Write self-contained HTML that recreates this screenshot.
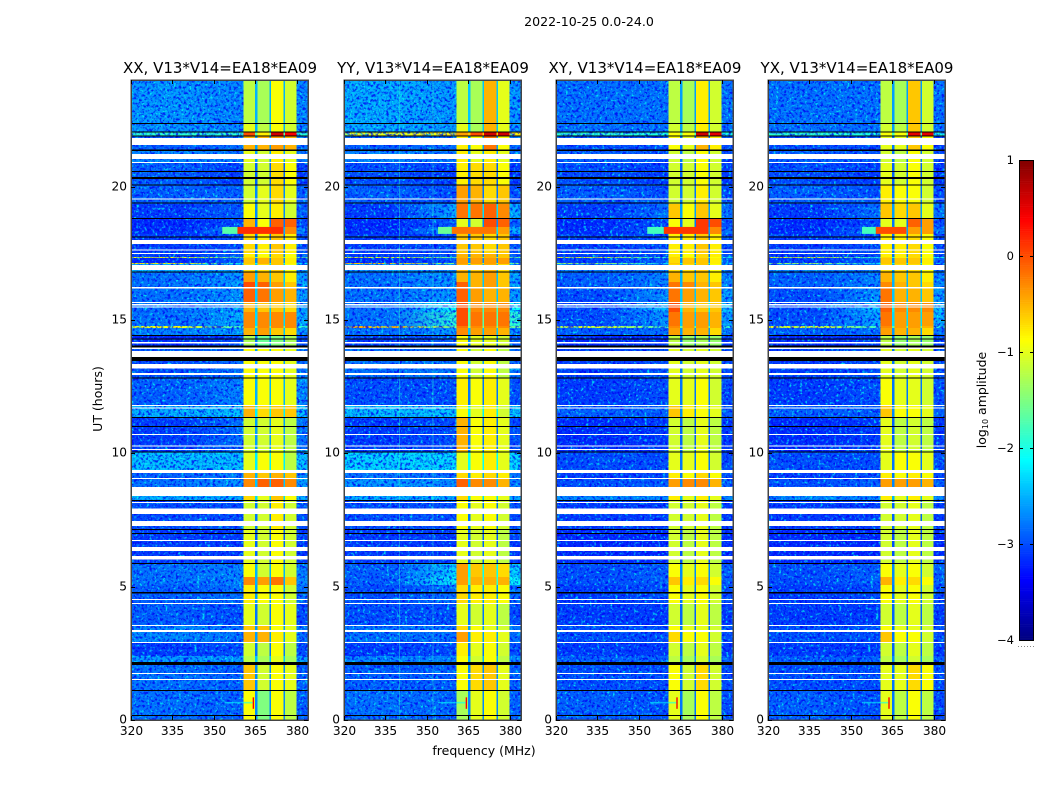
<!DOCTYPE html>
<html>
<head>
<meta charset="utf-8">
<title>2022-10-25 spectrogram</title>
<style>
html,body{margin:0;padding:0;background:#fff;width:1050px;height:800px;overflow:hidden}
svg{display:block;font-family:"DejaVu Sans","Liberation Sans",sans-serif}
text{fill:#000}
</style>
</head>
<body>
<svg id="figure" width="1050" height="800" viewBox="0 0 1050 800" xmlns="http://www.w3.org/2000/svg">
<defs id="defs">
<filter id="speckle" x="0" y="0" width="100%" height="100%" color-interpolation-filters="sRGB">
<feTurbulence type="fractalNoise" baseFrequency="0.38" numOctaves="2" seed="7"/>
<feColorMatrix type="matrix" values="0 0 0 0 0  0 3 0 0 -1.2  0 0 0 0 0.95  4 0 0 0 -1.6"/>
</filter>
</defs>
<text x="589" y="26" font-size="12.6" text-anchor="middle">2022-10-25 0.0-24.0</text>
<text x="484" y="755" font-size="12.5" text-anchor="middle">frequency (MHz)</text>
<text transform="translate(102,399) rotate(-90)" font-size="12.5" text-anchor="middle">UT (hours)</text>
<text transform="translate(986,400) rotate(-90)" font-size="12.5" text-anchor="middle">log<tspan font-size="8" dy="2">10</tspan><tspan dy="-2"> amplitude</tspan></text>
<g id="panels"></g>
<g id="colorbar"></g>
</svg>
<script>
// Categories and axis ticks
const panelTitles = ["XX, V13*V14=EA18*EA09", "YY, V13*V14=EA18*EA09", "XY, V13*V14=EA18*EA09", "YX, V13*V14=EA18*EA09"];
const freqTicks = [320, 335, 350, 365, 380];
const hourTicks = [0, 5, 10, 15, 20];
const colorTicks = [1, 0, -1, -2, -3, -4];
const colorTickLabels = ["1", "0", "\u22121", "\u22122", "\u22123", "\u22124"];

// Frequency columns (MHz)
const bandEdges = [[360.6, 364.8], [365.7, 370], [370.7, 375.1], [375.7, 379.9]];
const gapEdges = [[364.8, 365.7], [370, 370.7], [375.1, 375.7]];
const edgeBand = [379.9, 384];
const backgroundEdges = [[320, 338], [338, 360.6]];

// Time rows (UT hours, top to bottom)
const hourEdges = [24,22.39,22.05,21.9,21.38,20.89,20.06,19.35,18.79,18.49,18.23,17.48,17.36,17.33,17.14,17.1,16.8,16.43,16.2,15.68,15.3,14.78,14.7,14.44,14.03,12.83,11.81,11.36,10.05,9.26,9.04,8.74,8.25,7.13,5.85,5.36,5.06,4.35,3.56,3.3,2.93,2.4,2.18,1.13,0];

// log10 amplitude per row: [left bg, right bg, band1, band2, band3, band4]
const xxLevels = [
[-2.6,-2.7,-1.2,-1.3,-0.9,-1.1],[-2.6,-2.7,-1.0,-1.2,-0.9,-1.1],[-1.9,-1.9,0.0,-0.8,0.6,0.4],[-2.9,-2.8,-0.5,-0.5,-0.4,-0.5],
[-2.7,-2.8,-1.0,-1.1,-0.8,-1.0],[-2.9,-3.1,-1.1,-1.1,-0.7,-0.9],[-2.9,-2.9,-1.1,-1.0,-0.7,-1.0],[-3.1,-2.9,-0.9,-1.0,-0.8,-1.1],
[-3.2,-3.0,-0.5,-0.9,-0.1,-0.1],[-3.2,-2.7,-0.4,-0.5,-0.4,-0.3],[-3.1,-3.0,-0.7,-0.8,-0.6,-0.8],[-3.1,-2.9,-0.8,-0.9,-0.7,-0.9],
[-0.9,-1.6,-0.7,-0.8,-0.7,-0.9],[-3.2,-2.9,-0.6,-0.5,-0.6,-0.8],[-0.8,-2.2,-0.6,-0.5,-0.6,-0.8],[-2.5,-2.6,-0.7,-0.7,-0.6,-0.9],
[-2.8,-2.6,-0.4,-0.5,-0.6,-0.8],[-2.8,-2.5,0.0,-0.1,-0.4,-0.6],[-2.8,-2.6,-0.1,-0.2,-0.4,-0.5],[-2.8,-2.6,-0.5,-0.6,-0.6,-0.7],
[-2.8,-2.5,-0.3,-0.3,-0.3,-0.3],[-0.9,-1.9,-0.3,-0.3,-0.3,-0.3],[-2.7,-2.6,-0.5,-0.4,-0.6,-0.7],[-3.2,-3.0,-1.3,-1.6,-1.5,-1.3],
[-3.0,-2.8,-0.9,-0.9,-0.9,-1.0],[-2.9,-2.7,-0.9,-0.9,-0.9,-1.0],[-2.5,-2.4,-0.5,-0.7,-0.6,-0.6],[-3.1,-2.8,-1.1,-1.1,-1.0,-1.2],
[-2.4,-2.4,-1.0,-0.9,-0.9,-1.2],[-2.9,-2.7,-0.5,-0.6,-0.5,-0.6],[-2.8,-2.6,-0.3,-0.1,-0.1,-0.3],[-2.5,-2.5,-0.7,-1.0,-0.6,-0.9],
[-3.0,-3.0,-1.1,-1.1,-0.8,-1.1],[-3.1,-3.1,-1.0,-1.1,-0.9,-1.1],[-2.8,-2.7,-0.9,-1.1,-0.9,-1.1],[-2.8,-2.7,-0.3,-0.4,-0.2,-0.6],
[-2.9,-2.8,-0.8,-0.9,-0.9,-1.1],[-2.9,-3.0,-1.0,-1.1,-0.9,-1.0],[-2.7,-2.8,-0.6,-0.6,-0.9,-1.0],[-2.7,-2.8,-0.5,-0.5,-0.8,-1.0],
[-3.1,-3.0,-1.1,-1.2,-0.9,-1.2],[-2.6,-2.6,-1.2,-1.3,-1.0,-1.3],[-2.8,-2.9,-0.6,-1.1,-0.9,-1.0],[-2.8,-2.9,-0.9,-1.5,-0.9,-1.2]];
const yyLevels = [
[-2.5,-2.6,-1.2,-1.3,-0.5,-1.0],[-2.5,-2.6,-1.0,-1.3,-0.5,-1.0],[-1.0,-0.8,-0.4,0.0,0.6,0.6],[-2.9,-2.8,-0.8,-0.9,-0.2,-0.9],
[-2.7,-2.8,-0.8,-1.0,-0.8,-1.0],[-3.0,-3.1,-0.8,-0.7,-0.7,-0.9],[-2.9,-3.0,-0.4,-0.5,-0.7,-0.6],[-3.1,-2.5,-0.2,-0.2,-0.1,-0.3],
[-3.2,-2.9,-1.0,-1.1,0.0,-0.1],[-3.2,-2.5,-0.5,-0.5,-0.5,-0.4],[-3.1,-3.0,-0.6,-0.6,-0.7,-0.6],[-3.1,-2.9,-0.5,-0.5,-0.5,-0.6],
[-1.0,-1.6,-0.5,-0.5,-0.5,-0.6],[-3.2,-2.9,-0.4,-0.4,-0.4,-0.4],[-0.6,-1.5,-0.4,-0.4,-0.4,-0.4],[-2.6,-2.7,-0.5,-0.6,-0.5,-0.7],
[-2.8,-2.6,-0.5,-0.5,-0.4,-0.6],[-2.8,-2.6,-0.1,-0.5,-0.4,-0.6],[-2.8,-2.6,-0.1,-0.4,-0.5,-0.5],[-2.8,-2.1,0.0,-0.3,-0.3,-0.3],
[-2.8,-1.9,0.0,-0.2,-0.2,-0.2],[-0.5,-1.6,-0.2,-0.3,-0.3,-0.3],[-2.8,-2.6,-0.3,-0.4,-0.4,-0.5],[-3.1,-2.9,-0.9,-1.0,-1.0,-1.1],
[-2.8,-2.8,-0.9,-1.1,-0.9,-1.2],[-3.0,-3.0,-0.8,-0.9,-0.8,-1.0],[-2.4,-2.4,-0.9,-1.0,-0.8,-1.1],[-3.1,-3.0,-0.5,-0.9,-0.8,-1.0],
[-2.3,-2.3,-1.0,-0.9,-0.8,-1.0],[-2.8,-2.8,-0.7,-0.8,-0.7,-0.8],[-2.6,-2.7,-0.1,-0.3,-0.3,-0.5],[-2.5,-2.5,-0.7,-0.9,-0.9,-1.0],
[-3.0,-3.0,-0.9,-1.0,-0.9,-1.1],[-3.1,-3.1,-1.0,-1.1,-1.0,-1.2],[-2.9,-2.3,-0.4,-0.6,-0.6,-0.7],[-2.9,-2.1,-0.4,-0.5,-0.5,-0.5],
[-3.0,-2.8,-0.7,-0.8,-0.8,-0.9],[-3.0,-3.0,-1.0,-1.1,-1.0,-1.2],[-2.8,-2.8,-0.7,-0.9,-1.0,-1.1],[-2.8,-2.8,-0.4,-0.8,-0.8,-1.0],
[-3.1,-3.0,-0.8,-1.0,-0.9,-1.1],[-2.7,-2.7,-0.9,-1.1,-0.9,-1.2],[-2.9,-2.9,-0.9,-0.7,-0.6,-1.0],[-2.8,-2.9,-1.3,-1.0,-0.9,-1.1]];
const xyLevels = [
[-2.8,-2.8,-1.2,-1.3,-0.8,-1.1],[-2.8,-2.8,-1.1,-1.2,-0.8,-1.1],[-1.9,-2.0,-0.9,-0.9,0.6,0.5],[-3.0,-3.0,-0.9,-1.0,-0.5,-0.8],
[-2.9,-3.0,-1.1,-1.2,-0.9,-1.1],[-3.0,-3.1,-1.1,-1.1,-0.9,-1.1],[-2.9,-3.0,-1.1,-1.1,-0.8,-1.1],[-3.1,-2.8,-0.6,-0.9,-0.6,-1.0],
[-3.2,-3.0,-0.9,-1.0,0.1,0.0],[-3.2,-2.8,-0.5,-0.4,-0.2,-0.3],[-3.1,-3.0,-0.8,-0.8,-0.6,-0.8],[-3.1,-3.0,-0.8,-0.9,-0.7,-0.8],
[-1.0,-2.0,-0.7,-0.8,-0.7,-0.9],[-3.1,-2.9,-0.7,-0.6,-0.6,-0.8],[-1.4,-2.3,-0.6,-0.6,-0.6,-0.8],[-2.7,-2.8,-0.7,-0.7,-0.6,-0.9],
[-2.9,-2.7,-0.5,-0.6,-0.6,-0.8],[-2.9,-2.7,-0.2,-0.3,-0.5,-0.6],[-3.0,-2.6,-0.2,-0.4,-0.5,-0.6],[-3.0,-2.4,0.0,-0.5,-0.6,-0.6],
[-3.0,-2.6,-0.2,-0.4,-0.4,-0.5],[-1.0,-1.9,-0.3,-0.4,-0.4,-0.5],[-2.9,-2.8,-0.4,-0.5,-0.5,-0.7],[-3.2,-3.1,-1.2,-1.4,-1.3,-1.4],
[-3.1,-3.0,-1.0,-1.1,-1.0,-1.1],[-3.1,-3.0,-1.0,-1.0,-0.9,-1.1],[-2.9,-2.9,-0.6,-0.8,-0.9,-1.0],[-3.2,-3.1,-1.1,-1.2,-1.0,-1.2],
[-3.0,-3.0,-1.0,-1.0,-0.9,-1.1],[-3.1,-3.0,-0.8,-0.9,-0.7,-0.9],[-3.0,-2.9,-0.4,-0.3,-0.3,-0.5],[-2.7,-2.7,-0.8,-1.0,-0.8,-1.0],
[-3.1,-3.1,-1.1,-1.1,-1.0,-1.2],[-3.2,-3.2,-1.1,-1.2,-1.0,-1.2],[-3.0,-2.9,-0.9,-1.0,-0.9,-1.1],[-3.0,-2.9,-0.6,-0.8,-0.7,-0.9],
[-3.1,-3.0,-0.9,-1.0,-0.9,-1.1],[-3.1,-3.1,-1.1,-1.2,-1.0,-1.2],[-3.0,-3.0,-0.9,-1.0,-1.0,-1.1],[-3.0,-3.0,-0.7,-0.9,-0.9,-1.1],
[-3.1,-3.1,-1.1,-1.2,-1.0,-1.2],[-2.9,-2.9,-1.2,-1.3,-1.1,-1.3],[-3.0,-3.0,-0.9,-1.1,-0.7,-1.1],[-2.9,-3.0,-1.0,-1.3,-0.9,-1.2]];
const yxLevels = [
[-2.8,-2.8,-1.2,-1.3,-0.6,-1.1],[-2.8,-2.8,-1.1,-1.2,-0.6,-1.1],[-1.9,-2.0,-0.9,-0.9,0.5,0.5],[-3.0,-3.0,-1.0,-1.0,-0.6,-0.9],
[-2.9,-3.0,-1.1,-1.2,-0.9,-1.1],[-3.0,-3.1,-1.0,-1.1,-0.9,-1.1],[-2.9,-3.0,-0.8,-0.9,-0.9,-1.1],[-3.1,-2.8,-0.6,-0.7,-0.6,-1.0],
[-3.2,-3.0,-1.0,-1.0,-0.1,-0.4],[-3.2,-2.8,-0.5,-0.5,-0.4,-0.4],[-3.1,-3.0,-0.8,-0.8,-0.7,-0.9],[-3.1,-3.0,-0.8,-0.8,-0.7,-0.9],
[-1.0,-2.0,-0.7,-0.8,-0.7,-0.9],[-3.1,-2.9,-0.6,-0.6,-0.6,-0.8],[-1.4,-2.3,-0.6,-0.6,-0.6,-0.8],[-2.7,-2.8,-0.7,-0.7,-0.7,-0.9],
[-2.9,-2.7,-0.5,-0.6,-0.6,-0.8],[-2.9,-2.7,-0.3,-0.5,-0.6,-0.7],[-3.0,-2.6,-0.2,-0.5,-0.5,-0.6],[-3.0,-2.4,-0.1,-0.3,-0.3,-0.3],
[-3.0,-2.5,-0.2,-0.4,-0.4,-0.4],[-1.0,-1.9,-0.3,-0.4,-0.4,-0.5],[-2.9,-2.8,-0.4,-0.5,-0.5,-0.7],[-3.2,-3.1,-1.2,-1.4,-1.3,-1.4],
[-3.1,-3.0,-1.0,-1.1,-1.0,-1.1],[-3.1,-3.0,-0.9,-1.0,-1.0,-1.1],[-2.9,-2.9,-0.6,-0.9,-0.9,-1.0],[-3.2,-3.1,-1.0,-1.2,-1.1,-1.2],
[-3.0,-3.0,-1.0,-0.9,-0.9,-1.0],[-3.1,-3.0,-0.8,-0.9,-0.8,-0.9],[-3.0,-2.9,-0.4,-0.4,-0.4,-0.5],[-2.7,-2.7,-0.8,-1.0,-0.8,-1.0],
[-3.1,-3.1,-1.1,-1.1,-1.0,-1.2],[-3.2,-3.2,-1.1,-1.2,-1.0,-1.2],[-3.0,-2.9,-0.9,-1.0,-0.9,-1.1],[-3.0,-2.9,-0.5,-0.8,-0.7,-0.9],
[-3.1,-3.0,-0.9,-1.0,-0.9,-1.1],[-3.1,-3.1,-1.1,-1.2,-1.0,-1.2],[-3.0,-3.0,-0.9,-1.0,-1.0,-1.1],[-3.0,-3.0,-0.6,-0.9,-0.9,-1.1],
[-3.1,-3.1,-1.1,-1.2,-1.0,-1.2],[-2.9,-2.9,-1.2,-1.3,-1.1,-1.3],[-3.0,-3.0,-1.0,-1.0,-0.7,-0.9],[-2.9,-3.0,-1.0,-1.2,-0.9,-1.2]];
const panelLevels = [xxLevels, yyLevels, xyLevels, yxLevels];

// Flagged (no data) intervals in UT hours: white gaps
const flaggedStart = [21.83,21.23,20.93,19.56,18.0,17.64,17.51,17.06,16.24,15.68,15.6,15.51,14.18,13.97,13.84,13.35,13.01,11.81,11.72,10.73,10.29,10.16,9.38,9.08,8.74,8.18,7.93,7.46,6.75,6.49,6.15,4.54,4.39,3.56,3.38,2.93,1.76,1.54];
const flaggedEnd = [21.56,21.04,20.89,19.52,17.85,17.61,17.48,16.88,16.18,15.64,15.54,15.47,14.12,13.91,13.61,13.18,12.94,11.78,11.68,10.69,10.26,10.13,9.26,9.04,8.4,8.14,7.73,7.28,6.71,6.34,6.02,4.5,4.35,3.53,3.3,2.89,1.73,1.5];
// Scan boundaries in UT hours: black lines
const scanGapStart = [22.39,22.07,21.92,21.39,20.59,20.36,20.08,19.41,18.83,18.13,16.82,14.44,14.31,14.04,13.61,12.84,11.36,11.03,10.07,8.25,7.16,7.01,5.89,4.8,2.18,1.13,0.19];
const scanGapEnd = [22.35,22.03,21.88,21.34,20.55,20.29,20.04,19.37,18.79,18.09,16.78,14.4,14.27,13.97,13.47,12.81,11.33,10.99,10.03,8.21,7.13,6.98,5.85,4.74,2.06,1.09,0.15];

// Bright interference stripe near 18.3 h, per panel
const flareHours = [18.49, 18.23];
const flareFringeStart = [353, 354, 353, 354];
const flareFringeLevel = [-1.7, -1.6, -1.8, -1.8];
const flareStart = [358.5, 359, 359, 359];
const flareEnd = [375.1, 375.1, 375.1, 370];
const flareLevel = [0.15, -0.2, 0.1, 0.0];

// Narrow spike near 0.65 h with its fainter tail, and faint RFI channels
const spikeFreq = [364, 364, 363.5, 363.5];
const spikeHours = [0.42, 0.85];
const spikeLevel = 0.4;
const tailHour = [0.68, 0.62];
const tailStart = [354, 354, 354, 354];
const tailLevel = -2.1;
const rfiChannels = [[], [339.9, 352], [], []];
const rfiLevel = -1.9;

const panelLeft = [131, 344, 556, 768];
const panelWidth = 177;
const plotTop = 80;
const plotBottom = 720;
const SVGNS = "http://www.w3.org/2000/svg";

function xScale(panel, mhz) { return panelLeft[panel] + (mhz - 320) * panelWidth / 64; }
function yScale(hour) { return plotBottom - hour * (plotBottom - plotTop) / 24; }
function colorY(level) { return 160 + (1 - level) * 96; }
function jet(level) {
  const t = Math.max(0, Math.min(1, (level + 4) / 5));
  const c = v => Math.round(255 * Math.max(0, Math.min(1, 1.5 - Math.abs(4 * t - v))));
  return "rgb(" + c(3) + "," + c(2) + "," + c(1) + ")";
}
function make(parent, tag, attrs) {
  const el = document.createElementNS(SVGNS, tag);
  for (const k in attrs) el.setAttribute(k, attrs[k]);
  parent.appendChild(el);
  return el;
}

const defsRoot = document.getElementById("defs");
const panelsRoot = document.getElementById("panels");
panelTitles.forEach((title, p) => {
  const g = make(panelsRoot, "g", {});
  
  
  const levels = panelLevels[p];

  for (let r = 0; r < hourEdges.length - 1; r++) {
    const yTop = yScale(hourEdges[r]), h = yScale(hourEdges[r + 1]) - yTop;
    const row = levels[r];
    const gradId = "bg-" + p + "-" + r;
    const grad = make(defsRoot, "linearGradient", { id: gradId });
    make(grad, "stop", { offset: "0", "stop-color": jet(row[0]) });
    make(grad, "stop", { offset: "1", "stop-color": jet(row[1]) });
    const spans = [
      [backgroundEdges[0], jet(row[0])], [backgroundEdges[1], "url(#" + gradId + ")"],
      [bandEdges[0], jet(row[2])], [bandEdges[1], jet(row[3])], [bandEdges[2], jet(row[4])], [bandEdges[3], jet(row[5])],
      [gapEdges[0], jet(row[1] + 0.2)], [gapEdges[1], jet(row[1] + 0.2)], [gapEdges[2], jet(row[1] + 0.2)], [edgeBand, jet(row[1])]
    ];
    spans.forEach(s => {
      const x0 = xScale(p, s[0][0]), x1 = xScale(p, s[0][1]);
      const cell = make(g, "rect", { x: x0, y: yTop, width: x1 - x0, height: h, fill: s[1], "shape-rendering": "crispEdges" });
      
      
    });
  }

  const noise = make(g, "rect", { x: panelLeft[p], y: plotTop, width: xScale(p, 360.6) - panelLeft[p], height: plotBottom - plotTop, filter: "url(#speckle)", opacity: 0.8 });
  
  
  const edgeNoise = make(g, "rect", { x: xScale(p, edgeBand[0]), y: plotTop, width: xScale(p, edgeBand[1]) - xScale(p, edgeBand[0]), height: plotBottom - plotTop, filter: "url(#speckle)", opacity: 0.8 });
  
  

  const fringe = make(g, "rect", { x: xScale(p, flareFringeStart[p]), y: yScale(flareHours[0]), width: xScale(p, flareStart[p]) - xScale(p, flareFringeStart[p]), height: yScale(flareHours[1]) - yScale(flareHours[0]), fill: jet(flareFringeLevel[p]) });
  
  
  const flare = make(g, "rect", { x: xScale(p, flareStart[p]), y: yScale(flareHours[0]), width: xScale(p, flareEnd[p]) - xScale(p, flareStart[p]), height: yScale(flareHours[1]) - yScale(flareHours[0]), fill: jet(flareLevel[p]) });
  
  

  rfiChannels[p].forEach(f => {
    const line = make(g, "rect", { x: xScale(p, f), y: plotTop, width: 1, height: plotBottom - plotTop, fill: jet(rfiLevel), opacity: 0.4 });
    
    
  });

  const tail = make(g, "rect", { x: xScale(p, tailStart[p]), y: yScale(tailHour[0]), width: xScale(p, spikeFreq[p]) - xScale(p, tailStart[p]), height: yScale(tailHour[1]) - yScale(tailHour[0]), fill: jet(tailLevel), opacity: 0.6 });
  
  
  const spike = make(g, "rect", { x: xScale(p, spikeFreq[p]), y: yScale(spikeHours[1]), width: 1.4, height: yScale(spikeHours[0]) - yScale(spikeHours[1]), fill: jet(spikeLevel) });
  
  

  flaggedStart.forEach((s, i) => {
    const bar = make(g, "rect", { x: panelLeft[p], y: yScale(s), width: panelWidth, height: yScale(flaggedEnd[i]) - yScale(s), fill: "#fff", "shape-rendering": "crispEdges" });
    
    
  });
  scanGapStart.forEach((s, i) => {
    const bar = make(g, "rect", { x: panelLeft[p], y: yScale(s), width: panelWidth, height: yScale(scanGapEnd[i]) - yScale(s), fill: "#000", "shape-rendering": "crispEdges" });
    
    
  });

  const frame = make(g, "rect", { x: panelLeft[p] + 0.25, y: plotTop + 0.25, width: panelWidth, height: plotBottom - plotTop, fill: "none", stroke: "#444", "stroke-width": 1.5 });
  
  

  const titleEl = make(g, "text", { x: panelLeft[p] + panelWidth / 2 + 0.5, y: 73, "font-size": 15, "text-anchor": "middle" });
  titleEl.textContent = title;
  
  

  freqTicks.forEach(f => {
    const x = Math.round(xScale(p, f)) + 0.5;
    const t = make(g, "path", { d: "M" + x + " " + plotBottom + "v-4M" + x + " " + plotTop + "v4", stroke: "#000", "stroke-width": 1, fill: "none" });
    
    
    const label = make(g, "text", { x: x, y: 735, "font-size": 12.2, "text-anchor": "middle" });
    label.textContent = f;
    
    
  });
  hourTicks.forEach(h => {
    const y = Math.round(yScale(h)) + 0.5;
    const x0 = panelLeft[p], x1 = panelLeft[p] + panelWidth;
    const t = make(g, "path", { d: "M" + x0 + " " + y + "h4M" + x1 + " " + y + "h-4", stroke: "#000", "stroke-width": 1, fill: "none" });
    
    
    const label = make(g, "text", { x: x0 - 4, y: y + 3.2, "font-size": 12.2, "text-anchor": "end" });
    label.textContent = h;
    
    
  });
});

// Colorbar
const colorbarRoot = document.getElementById("colorbar");
for (let i = 0; i < 250; i++) {
  const level = 1 - i * 0.02;
  const swatch = make(colorbarRoot, "rect", { x: 1019, y: colorY(level), width: 15, height: 2.2, fill: jet(level - 0.01) });
  
  
}
const cbFrame = make(colorbarRoot, "rect", { x: 1019.5, y: 160.5, width: 14, height: 480, fill: "none", stroke: "#000", "stroke-width": 1 });


colorTicks.forEach((v, i) => {
  const y = Math.round(colorY(v)) + 0.5;
  const t = make(colorbarRoot, "path", { d: "M1019 " + y + "h4M1034 " + y + "h-4", stroke: "#000", "stroke-width": 1, fill: "none" });
  
  
  const label = make(colorbarRoot, "text", { x: 1014, y: y + 3.5, "font-size": 11.5, "text-anchor": "end" });
  label.textContent = colorTickLabels[i];
  
  
});
const dots = make(colorbarRoot, "line", { x1: 1018, x2: 1035, y1: 646.5, y2: 646.5, stroke: "#888", "stroke-width": 1, "stroke-dasharray": "1 2" });


</script>
</body>
</html>
